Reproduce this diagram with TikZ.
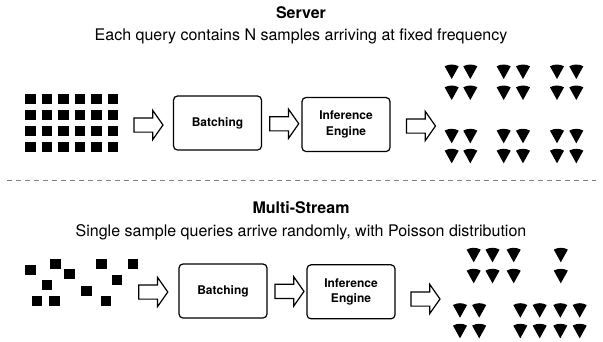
\documentclass[tikz,border=0pt]{standalone}
\usepackage{fontspec}
\setmainfont{TeX Gyre Heros}
\usetikzlibrary{shapes.arrows, calc}

\newcommand{\drawslice}[2]{\fill (#1,#2) -- ++(-61:14.5) arc[start angle=-61, end angle=-119, radius=14.5] -- cycle;}

\begin{document}
\begin{tikzpicture}[
        x=1pt, y=-1pt,
        box/.style={draw, rounded corners=4pt, line width=1.2pt, minimum width=88pt, minimum height=54pt, align=center, inner sep=2pt, font=\bfseries\fontsize{12}{15.5}\selectfont},
        bigarrow/.style={draw, single arrow, line width=1.2pt, minimum height=29pt, single arrow head extend=7.5pt, single arrow tip angle=110, inner xsep=0pt, inner ysep=6.5pt},
        title/.style={anchor=base, font=\bfseries\fontsize{16}{19}\selectfont},
        subtitle/.style={anchor=base, font=\fontsize{16}{19}\selectfont},
        separator/.style={dash pattern=on 5pt off 4pt, gray, line width=0.8pt}
    ]
    \useasboundingbox (0,0) rectangle (603,341);

    % Server
    \node[title] (title1) at (301,18.5) {Server};
    \node[subtitle] (sub1) at (301,40) {Each query contains N samples arriving at fixed frequency};
    \foreach \i in {0,...,5}
        \foreach \j in {0,...,3}
            \fill ({25+16.5*\i},{93.7+16.2*\j}) rectangle ++(10.5,10);
    \node[bigarrow] (arrow1) at (146,125) {};
    \node[box] (batch1) at (217.5,123) {Batching};
    \node[box] (engine1) at (346,124.5) {Inference\\Engine};
    \node[bigarrow] (arrow2) at ($(batch1.east)!0.5!(engine1.west)$) {};
    \node[bigarrow] (arrow3) at (418.5,126) {};
    \foreach \x in {451.7,470.3,503.7,523,557,576.3}
        \foreach \y in {79,100,143.3,163.3}
            {\drawslice{\x}{\y}}

    \draw[separator] (7,180) -- (596,180);

    % Multi-Stream
    \node[title] (title2) at (301,213) {Multi-Stream};
    \node[subtitle] (sub2) at (301,236.5) {Single sample queries arrive randomly, with Poisson distribution};
    \foreach \x/\y in {30.3/270.3, 55.3/264.3, 69.7/273.7, 47/284.7, 37/301.3, 54.7/301.3, 86.3/291, 101.3/264.3, 117/279.7, 133/264.3, 106/301.3}
        \fill ({\x-5.25},{\y-5}) rectangle ++(10.5,10);
    \node[bigarrow] (arrow4) at (150.8,292) {};
    \node[box] (batch2) at (223,291) {Batching};
    \node[box] (engine2) at (351,291.8) {Inference\\Engine};
    \node[bigarrow] (arrow5) at ($(batch2.east)!0.5!(engine2.west)$) {};
    \node[bigarrow] (arrow6) at (423,299) {};
    \foreach \x in {473.7,492.5,513.7,560.8}
        \foreach \y in {262.3,283.3}
            {\drawslice{\x}{\y}}
    \foreach \x in {460,479.2,520.3,539.7,560.3,579.7}
        \foreach \y in {317.7,338.3}
            {\drawslice{\x}{\y}}

\end{tikzpicture}
\end{document}
